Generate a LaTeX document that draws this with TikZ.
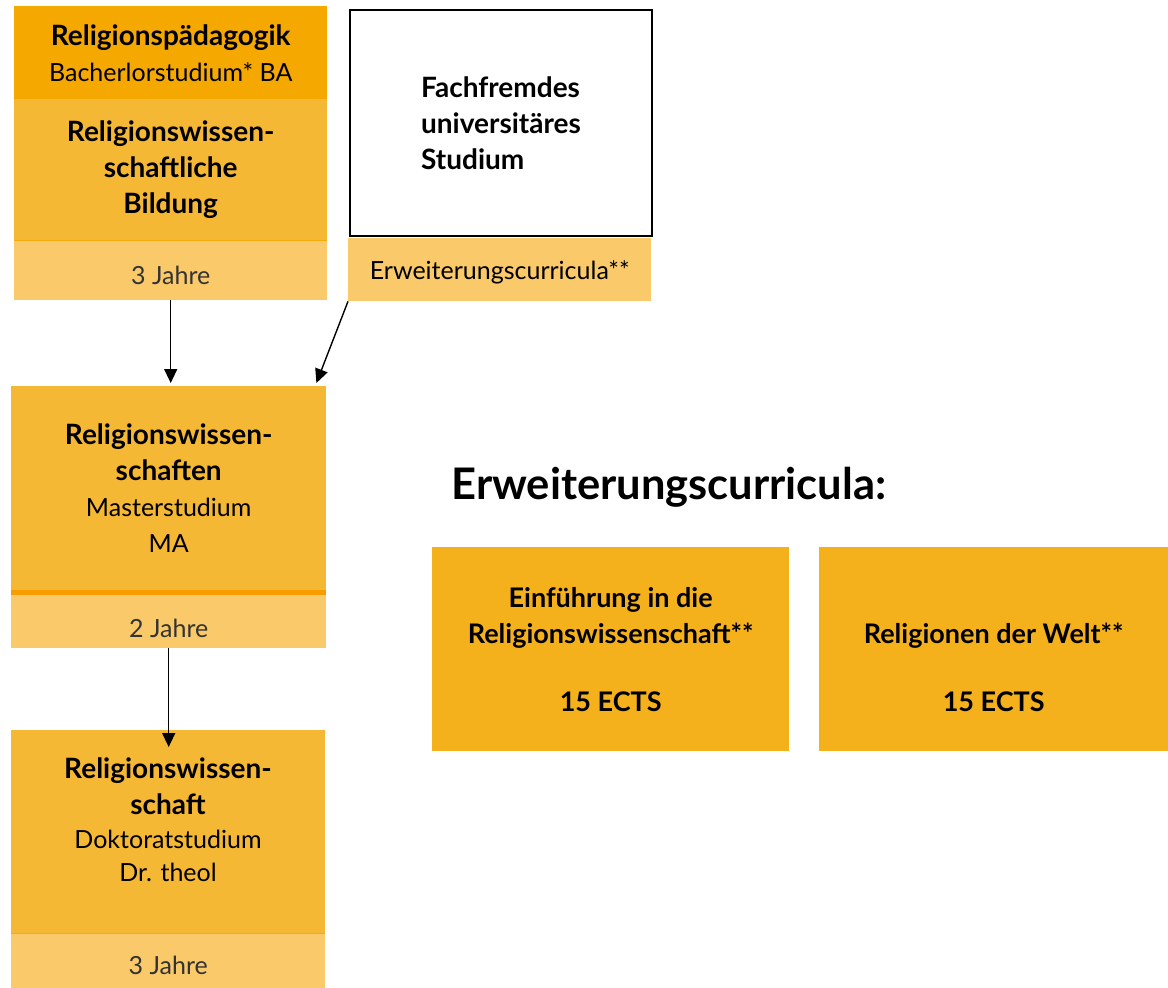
\documentclass[tikz,border=0pt]{standalone}
\usepackage{fontspec}
\setmainfont{Lato}
\usetikzlibrary{arrows.meta,calc}
\definecolor{cDark}{HTML}{F5A800}
\definecolor{cMid}{HTML}{F5B834}
\definecolor{cLight}{HTML}{F9C96A}
\definecolor{cEcts}{HTML}{F5B11C}
\definecolor{cText}{HTML}{333333}
\newcommand{\ttl}[1]{{\fontsize{28}{36}\selectfont\bfseries #1}}
\newcommand{\ects}[1]{{\fontsize{27}{36}\selectfont\bfseries #1}}
\newcommand{\subfont}{\fontsize{25}{36}\selectfont}
\newcommand{\dropby}[2]{\raisebox{-#1pt}[\height][\depth]{#2}}
\tikzset{
  box/.style={rectangle, inner sep=0pt, anchor=north west, align=center, text=black, font=\subfont},
  band/.style={rectangle, inner sep=0pt, anchor=north west, align=center, fill=cLight, text=cText, font=\subfont},
  arr/.style={-{Triangle[length=14pt,width=13pt]}, line width=1.4pt},
}
\begin{document}
\begin{tikzpicture}[x=1pt,y=-1pt]
\useasboundingbox (0,0) rectangle (1168,988);
% Bachelor column
\node[box, fill=cDark, minimum width=313pt, minimum height=93pt] (bahead) at (14,6)
  {\ttl{Religionspädagogik}\\Bacherlorstudium* BA};
\node[box, fill=cMid, minimum width=313pt, minimum height=141pt] (bamid) at (14,99)
  {\ttl{Religionswissen-}\\\ttl{schaftliche}\\\ttl{Bildung}};
\node[band, minimum width=313pt, minimum height=60pt] (baband) at (14,240) {\dropby{5}{3 Jahre}};
\draw[cDark!80!cMid, line width=1pt] (baband.north west) -- (baband.north east);
% Fachfremdes
\node[box, draw=black, line width=2pt, fill=white, minimum width=302pt, minimum height=226pt, align=left] (ff) at (349,9)
  {\ttl{Fachfremdes}\\\ttl{universitäres}\\\ttl{Studium}};
\node[band, minimum width=303pt, minimum height=63pt, text=black] (ffband) at (348,238) {\dropby{3}{Erweiterungscurricula**}};
% Master column
\node[box, fill=cMid, minimum width=315pt, minimum height=204pt] (ma) at (11,386)
  {\ttl{Religionswissen-}\\\ttl{schaften}\\Masterstudium\\MA};
\node[band, minimum width=315pt, minimum height=58pt] (maband) at (11,590) {\dropby{9}{2 Jahre}};
\draw[cDark!70!orange, line width=5pt] ($(maband.north west)+(0,2.5)$) -- ($(maband.north east)+(0,2.5)$);
% Doctor column
\node[box, fill=cMid, minimum width=314pt, minimum height=203pt] (dr) at (11,730) {};
\node[align=center, inner sep=0pt, font=\subfont] (drtext) at (168,820)
  {\ttl{Religionswissen-}\\\ttl{schaft}\\[-2pt]Doktoratstudium\\[-3pt]Dr. theol};
\node[band, minimum width=314pt, minimum height=55pt] (drband) at (11,933) {\dropby{5}{3 Jahre}};
\draw[cDark!80!cMid, line width=1pt] (drband.north west) -- (drband.north east);
% Arrows
\coordinate (a1e) at ($(ma.north)+(2,-3)$);
\draw[arr] (baband.south) -- (baband.south |- a1e);
\coordinate (a2e) at ($(ma.north east)+(-10,-3)$);
\draw[arr] (ffband.south west) -- (a2e);
\coordinate (a3e) at ($(dr.north)+(0,17)$);
\draw[arr] (maband.south) -- (maband.south |- a3e);
% Heading
\node[anchor=west, font=\fontsize{43.5}{50}\selectfont\bfseries] (head) at (448,487) {Erweiterungscurricula:};
% ECTS boxes
\node[box, fill=cEcts, minimum width=357pt, minimum height=204pt] (e1) at (432,547)
  {\ects{Einführung in die}\\\ects{Religionswissenschaft**}\\[32pt]\ects{15 ECTS}};
\node[box, fill=cEcts, minimum width=349pt, minimum height=204pt] (e2) at (819,547)
  {\rule{0pt}{20pt}\\\ects{Religionen der Welt**}\\[32pt]\ects{15 ECTS}};
\end{tikzpicture}
\end{document}
